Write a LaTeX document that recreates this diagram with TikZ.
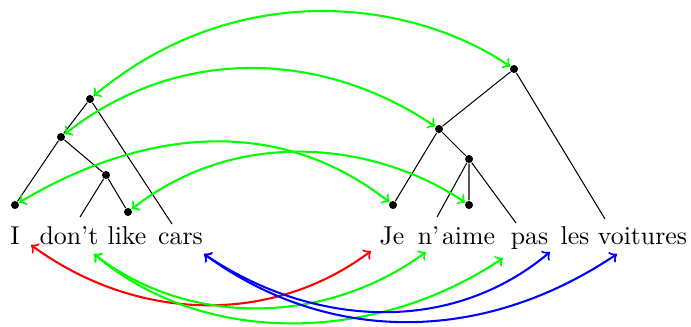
\documentclass[tikz,border=0pt]{standalone}
\usetikzlibrary{calc}

\begin{document}
\begin{tikzpicture}[x=0.3876pt,y=0.3876pt,
  word/.style={anchor=base,inner sep=0pt},
  tnode/.style={circle,fill,inner sep=1.1pt},
  link/.style={<->,thick}]
\useasboundingbox (0,0) rectangle (691,326);
% words
\foreach \n/\w/\x in {I/I/15,don/don't/69,like/like/127,cars/cars/180.5,
  Je/Je/392,n/n'/428.5,aime/aime/468.5,pas/pas/529.5,les/les/575,voit/voitures/642.5}
  \node[word] (\n) at (\x,82) {\w};
% trees
\foreach \n/\x/\y in {lA/90/227,lB/61/189,lC/106/151,lI/15/121,lL/128/114,
  rA/514/257,rB/439/197,rC/469/167,rJ/393/121,rM/469/121}
  \node[tnode] (\n) at (\x,\y) {};
\coordinate (donT) at (80,109);
\coordinate (carsT) at (172,102);
\coordinate (naimeT) at (437,109);
\coordinate (pasT) at (516,103);
\coordinate (voitT) at (605,107);
\draw (lA)--(lB) (lB)--(lI) (lB)--(lC) (lC)--(donT) (lC)--(lL) (lA)--(carsT);
\draw (rA)--(rB) (rA)--(voitT) (rB)--(rJ) (rB)--(rC) (rC)--(naimeT) (rC)--(rM) (rC)--(pasT);
% alignments above
\draw[link,green] (lA) .. controls +(146,122) and +(-103,70) .. (rA);
\draw[link,green] (lB) .. controls +(117,92) and +(-117,79) .. (rB);
\draw[link,green] (lI) .. controls +(114,68) and +(-125,98) .. (rJ);
\draw[link,green] (lL) .. controls +(111,87) and +(-92,62) .. (rM);
% alignments below
\draw[link,red] ($(I.base)+(16,-1)$) .. controls +(108,-79) and +(-97,-73) .. ($(Je.base)+(-21,-7)$);
\draw[link,green] ($(don.base)+(25,-10)$) .. controls +(91,-71) and +(-104,-76) .. ($(n.base)+(-2.5,-8)$);
\draw[link,green] ($(don.base)+(25,-10)$) .. controls +(114,-96) and +(-123,-83) .. ($(aime.base)+(34.5,-14)$);
\draw[link,blue] ($(cars.base)+(23.5,-10)$) .. controls +(108,-73) and +(-100,-84) .. ($(pas.base)+(20.5,-8)$);
\draw[link,blue] ($(cars.base)+(23.5,-10)$) .. controls +(122,-89) and +(-137,-92) .. ($(voit.base)+(-25.5,-10)$);
\end{tikzpicture}
\end{document}
